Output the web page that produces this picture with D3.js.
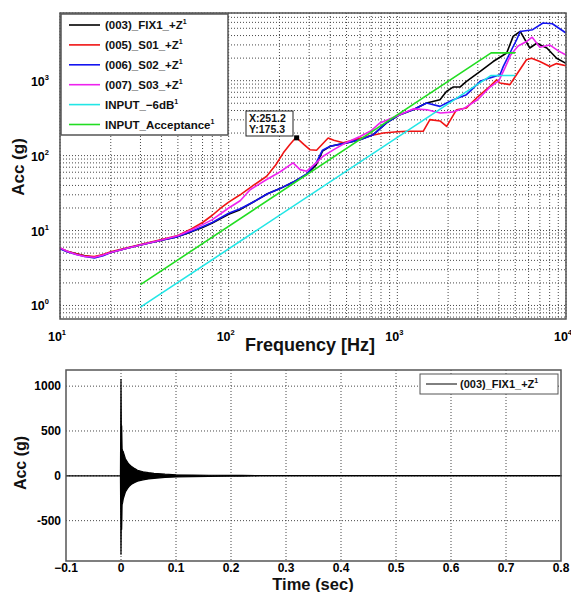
<!DOCTYPE html>
<html>
<head>
<meta charset="utf-8">
<script src="https://cdn.jsdelivr.net/npm/d3@7"></script>
<style>
  body { margin: 0; background: #fff; }
  text { font-family: "Liberation Sans", Arial, sans-serif; font-weight: bold; }
</style>
</head>
<body>
<div id="chart"></div>
<script>
const width = 571, height = 592;

// ---- data: top plot (SRS, [freq Hz, acc g]) ----
const fix1 = [[10,5.8],[11,5.3],[12.5,4.9],[14,4.6],[16,4.4],[18,4.7],[20,5.1],[25,5.8],[30,6.4],[40,7.4],[50,8.3],[60,9.6],[70,11],[80,12.6],[100,16.5],[117,19],[140,24],[170,31],[200,36],[240,44],[290,56],[330,75],[360,115],[400,133],[500,148],[600,163],[720,190],[863,273],[1035,352],[1240,410],[1490,504],[1790,558],[1960,720],[2150,825],[2360,825],[2570,980],[3100,1330],[3700,1800],[4450,2340],[4860,3900],[5350,4540],[6100,2730],[6700,3160],[7700,2730],[8800,1990],[10000,1700]];
const s01 = [[10,5.8],[11,5.3],[12.5,4.9],[14,4.6],[16,4.5],[18,4.8],[20,5.2],[25,5.9],[30,6.5],[40,7.6],[50,8.6],[60,10.5],[70,12.8],[80,16],[90,20],[100,24],[117,30],[140,40],[168,53],[190,75],[211,109],[230,140],[251.2,175.3],[280,140],[303,120],[332,118],[389,172],[420,160],[478,148],[600,170],[700,185],[825,200],[1000,208],[1135,211],[1423,211],[1560,302],[1790,290],[1960,245],[2245,410],[2570,433],[2950,588],[3540,840],[3880,1030],[4060,930],[4650,885],[4860,1030],[5830,1900],[6250,1990],[7000,1800],[8020,1550],[8790,1690],[10000,1580]];
const s02 = [[10,5.7],[11,5.2],[12.5,4.8],[14,4.5],[16,4.3],[18,4.6],[20,5.1],[25,5.8],[30,6.4],[40,7.4],[50,8.3],[60,9.7],[70,11.2],[80,12.8],[100,17],[117,19.5],[140,24],[170,31],[200,36],[240,44],[290,57],[330,80],[360,118],[400,133],[500,148],[600,163],[720,190],[863,273],[1035,352],[1240,410],[1490,504],[1790,454],[1960,504],[2150,558],[2570,650],[3100,980],[3540,1090],[4060,1200],[4250,1550],[4650,2340],[5100,3520],[5350,4540],[6340,4790],[7300,5890],[8300,5750],[10000,4330]];
const s03 = [[10,5.9],[11,5.3],[12.5,4.8],[14,4.5],[16,4.4],[18,4.7],[20,5.1],[25,5.8],[30,6.4],[40,7.5],[50,8.5],[60,10.2],[70,12],[80,14],[100,20],[117,25],[134,35],[168,48],[200,60],[241,80],[265,65],[290,62],[330,80],[363,98],[420,120],[500,150],[600,180],[700,215],[789,273],[1000,340],[1240,420],[1500,410],[1800,370],[2100,380],[2500,430],[3000,560],[3500,800],[4000,1000],[4300,1400],[4700,2200],[5200,2900],[5800,3300],[6300,3800],[7000,2800],[8000,3000],[9000,2500],[10000,2200]];
const inputMinus6 = [[30,0.95],[3600,1175],[5000,1175]];
const inputAccept = [[30,1.9],[3600,2350],[5000,2350]];

const seriesNames = ["(003)_FIX1_+Z", "(005)_S01_+Z", "(006)_S02_+Z", "(007)_S03_+Z", "INPUT_-6dB", "INPUT_Acceptance"];
const seriesColors = ["#000000", "#f01414", "#1414f0", "#ee22ee", "#22e6e6", "#22dd22"];
const seriesData = [fix1, s01, s02, s03, inputMinus6, inputAccept];

// datatip
const tipPoint = [251.2, 175.3];

// ---- data: bottom plot (time history envelope) ----
const sigTime  = [-0.1, -0.001, 0, 0.0006, 0.0012, 0.002, 0.003, 0.004, 0.006, 0.008, 0.012, 0.016, 0.02, 0.025, 0.03, 0.04, 0.05, 0.06, 0.08, 0.1, 0.13, 0.16, 0.2, 0.22, 0.25, 0.8];
const sigUpper = [0, 0, 1080, 520, 560, 300, 280, 270, 230, 190, 150, 120, 100, 80, 62, 45, 35, 28, 18, 12, 8, 6, 5, 4, 2, 1];
const sigLower = [0, 0, -880, -420, -600, -320, -300, -260, -220, -180, -140, -110, -90, -75, -60, -45, -35, -28, -18, -12, -8, -6, -5, -4, -2, -1];

const timeTicks = [-0.1, 0, 0.1, 0.2, 0.3, 0.4, 0.5, 0.6, 0.7, 0.8];
const accTicks = [-500, 0, 500, 1000];

const svg = d3.select('#chart').append('svg')
    .attr('width', width).attr('height', height);

const gridColor = '#333';

// ================= top plot =================
const x1 = d3.scaleLog().domain([10, 10000]).range([60, 566]);
const y1 = d3.scaleLog().domain([0.66, 8000]).range([319, 13]);

const srsG = svg.append('g');

// minor + major grid (1..9 per decade)
let xGrid = [], yGrid = [];
for (let d = 10; d < 10000; d *= 10)
    for (let m = 1; m <= 9; m++) xGrid.push(m * d);
xGrid.push(10000);
for (let d = 0.1; d < 10000; d *= 10)
    for (let m = 1; m <= 9; m++) {
        let v = +(m * d).toPrecision(3);
        if (v >= 0.66 && v <= 8000) yGrid.push(v);
    }

srsG.append('g').selectAll('line').data(xGrid).enter().append('line')
    .attr('x1', d => x1(d)).attr('x2', d => x1(d))
    .attr('y1', 13).attr('y2', 319)
    .attr('stroke', gridColor).attr('stroke-width', 0.9)
    .attr('stroke-dasharray', '1,2');
srsG.append('g').selectAll('line').data(yGrid).enter().append('line')
    .attr('x1', 60).attr('x2', 566)
    .attr('y1', d => y1(d)).attr('y2', d => y1(d))
    .attr('stroke', gridColor).attr('stroke-width', 0.9)
    .attr('stroke-dasharray', '1,2');

const line1 = d3.line().x(d => x1(d[0])).y(d => y1(d[1]));

srsG.append('g').selectAll('path').data(seriesData).enter().append('path')
    .attr('d', d => line1(d))
    .attr('fill', 'none')
    .attr('stroke', (d, i) => seriesColors[i])
    .attr('stroke-width', 1.6)
    .attr('stroke-linejoin', 'round');

// frame
srsG.append('rect').attr('x', 60).attr('y', 13).attr('width', 506).attr('height', 306)
    .attr('fill', 'none').attr('stroke', '#555').attr('stroke-width', 1.5);

// tick labels
const decadesX = [10, 100, 1000, 10000];
const xl = srsG.append('g').selectAll('text').data(decadesX).enter().append('text')
    .attr('x', d => x1(d) - 3).attr('y', 341)
    .attr('text-anchor', 'middle').attr('font-size', 12.5).attr('fill', '#000')
    .text('10');
xl.append('tspan').attr('dy', -6).attr('font-size', 7.5).text(d => Math.round(Math.log10(d)));

const decadesY = [1, 10, 100, 1000];
const yl = srsG.append('g').selectAll('text').data(decadesY).enter().append('text')
    .attr('x', 49).attr('y', d => y1(d) + 5)
    .attr('text-anchor', 'end').attr('font-size', 12.5).attr('fill', '#000')
    .text('10');
yl.append('tspan').attr('dy', -6).attr('font-size', 7.5).text(d => Math.round(Math.log10(d)));

srsG.append('text').attr('x', 310).attr('y', 351)
    .attr('text-anchor', 'middle').attr('font-size', 18).attr('fill', '#111')
    .text('Frequency [Hz]');
srsG.append('text')
    .attr('transform', 'translate(24,167) rotate(-90)')
    .attr('text-anchor', 'middle').attr('font-size', 17).attr('fill', '#111')
    .text('Acc (g)');

// datatip
srsG.append('rect')
    .attr('x', x1(tipPoint[0]) - 2).attr('y', y1(tipPoint[1]) - 2)
    .attr('width', 5).attr('height', 5).attr('fill', '#000');
const tip = srsG.append('g');
tip.append('rect').attr('x', 246).attr('y', 111).attr('width', 47).attr('height', 25)
    .attr('fill', '#fff').attr('stroke', '#222').attr('stroke-width', 1);
tip.append('text').attr('x', 249).attr('y', 121.5).attr('font-size', 10.5).attr('fill', '#111')
    .text('X:' + tipPoint[0]);
tip.append('text').attr('x', 249).attr('y', 133).attr('font-size', 10.5).attr('fill', '#111')
    .text('Y:' + tipPoint[1]);

// legend
const leg = srsG.append('g');
leg.append('rect').attr('x', 61).attr('y', 14).attr('width', 167).attr('height', 121)
    .attr('fill', '#fff').attr('stroke', '#555').attr('stroke-width', 1.5);
const legItems = leg.selectAll('g.item').data(seriesNames).enter().append('g')
    .attr('class', 'item')
    .attr('transform', (d, i) => 'translate(0,' + (25 + i * 19.9) + ')');
legItems.append('line').attr('x1', 69).attr('x2', 100).attr('y1', 0).attr('y2', 0)
    .attr('stroke', (d, i) => seriesColors[i]).attr('stroke-width', 1.6);
const legText = legItems.append('text').attr('x', 105).attr('y', 4)
    .attr('font-size', 11.5).attr('fill', '#111')
    .text(d => d.replace('-', '\u2212'));
legText.append('tspan').attr('dy', -5).attr('font-size', 7).text('1');

// ================= bottom plot =================
const x2 = d3.scaleLinear().domain([-0.1, 0.8]).range([66, 561]);
const y2 = d3.scaleLinear().domain([-950, 1180]).range([561, 370]);

const timeG = svg.append('g');

timeG.append('g').selectAll('line').data(timeTicks.slice(1, -1)).enter().append('line')
    .attr('x1', d => x2(d)).attr('x2', d => x2(d))
    .attr('y1', 370).attr('y2', 561)
    .attr('stroke', gridColor).attr('stroke-width', 0.9).attr('stroke-dasharray', '1,2');
timeG.append('g').selectAll('line').data(accTicks).enter().append('line')
    .attr('x1', 66).attr('x2', 561)
    .attr('y1', d => y2(d)).attr('y2', d => y2(d))
    .attr('stroke', gridColor).attr('stroke-width', 0.9).attr('stroke-dasharray', '1,2');

const sig = sigTime.map((t, i) => ({t: t, hi: sigUpper[i], lo: sigLower[i]}));
timeG.append('path').datum(sig)
    .attr('d', d3.area().x(d => x2(d.t)).y0(d => y2(d.lo)).y1(d => y2(d.hi)))
    .attr('fill', '#000').attr('stroke', '#000').attr('stroke-width', 1.2);

timeG.append('rect').attr('x', 66).attr('y', 370).attr('width', 495).attr('height', 191)
    .attr('fill', 'none').attr('stroke', '#555').attr('stroke-width', 1.5);

timeG.append('g').selectAll('text').data(timeTicks).enter().append('text')
    .attr('x', d => x2(d)).attr('y', 572)
    .attr('text-anchor', 'middle').attr('font-size', 12).attr('fill', '#000')
    .text(d => d === 0 ? '0' : d3.format('.1f')(d));
timeG.append('g').selectAll('text').data(accTicks).enter().append('text')
    .attr('x', 61).attr('y', d => y2(d) + 4)
    .attr('text-anchor', 'end').attr('font-size', 12).attr('fill', '#000')
    .text(d => d);

timeG.append('text').attr('x', 313).attr('y', 590)
    .attr('text-anchor', 'middle').attr('font-size', 16.5).attr('fill', '#111')
    .text('Time (sec)');
timeG.append('text')
    .attr('transform', 'translate(26,463) rotate(-90)')
    .attr('text-anchor', 'middle').attr('font-size', 16).attr('fill', '#111')
    .text('Acc (g)');

// legend
const leg2 = timeG.append('g');
leg2.append('rect').attr('x', 420).attr('y', 374).attr('width', 138).attr('height', 20)
    .attr('fill', '#fff').attr('stroke', '#555').attr('stroke-width', 1);
leg2.append('line').attr('x1', 426).attr('x2', 457).attr('y1', 384).attr('y2', 384)
    .attr('stroke', '#000').attr('stroke-width', 1);
leg2.append('text').attr('x', 460).attr('y', 388).attr('font-size', 11).attr('fill', '#111')
    .text(seriesNames[0])
    .append('tspan').attr('dy', -5).attr('font-size', 7).text('1');
</script>
</body>
</html>
